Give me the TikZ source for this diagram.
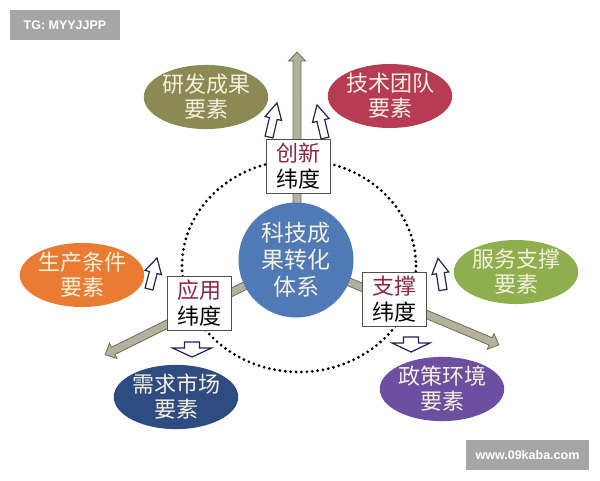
\documentclass[tikz,border=0pt]{standalone}
\usepackage{fontspec}
\newfontfamily\cjk{Noto Sans CJK SC}
\newfontfamily\wmfont{Liberation Sans}
\usetikzlibrary{shapes.geometric}
\definecolor{khaki}{HTML}{B3B19B}
\definecolor{khakiedge}{HTML}{6E6D5C}
\definecolor{coreblue}{HTML}{4F7AB5}
\definecolor{olive}{HTML}{8B8A54}
\definecolor{crimson}{HTML}{B73C53}
\definecolor{orangeel}{HTML}{E97B33}
\definecolor{navyel}{HTML}{2F4C82}
\definecolor{greenel}{HTML}{8FAE4E}
\definecolor{purpleel}{HTML}{6C4FA0}
\definecolor{cream}{HTML}{F4F1DE}
\definecolor{boxred}{HTML}{8B2840}
\definecolor{boxgray}{HTML}{505050}
\definecolor{navyline}{HTML}{1F2450}
\definecolor{wmgray}{HTML}{A6A6A6}
\newcommand\blkarr[7]{% style, base, angle, length, head length, shaft half, head half
  \begin{scope}[shift={#2}, rotate=#3]
    \filldraw[#1] (0,#6) -- ({#4-#5},#6) -- ({#4-#5},#7) -- (#4,0) -- ({#4-#5},-#7) -- ({#4-#5},-#6) -- (0,-#6) -- cycle;
  \end{scope}}
\begin{document}
\begin{tikzpicture}[x=1pt,y=-1pt,
  elem/.style={ellipse, minimum width=121pt, minimum height=60pt, inner sep=0pt,
    text=cream, font=\cjk\fontsize{22}{25}\selectfont, align=center},
  dimbox/.style={draw=boxgray, fill=white, line width=0.9pt, minimum width=64pt,
    minimum height=54pt, inner sep=0pt, align=center, font=\cjk\fontsize{22}{26}\selectfont},
  bigarrow/.style={fill=khaki, draw=khakiedge, line width=0.8pt, line join=miter},
  hollow/.style={fill=white, draw=navyline, line width=1.2pt, line join=miter},
  dotring/.style={line width=3.1pt, dash pattern=on 0pt off 5.4pt, line cap=round},
  wmbox/.style={fill=wmgray, text=white, inner sep=0pt, font=\wmfont\bfseries\fontsize{12.5}{15}\selectfont}
]
\useasboundingbox (0,0) rectangle (600,480);
\fill[white] (0,0) rectangle (600,480);

% watermarks
\node[wmbox, minimum width=110pt, minimum height=30pt] (wm1) at (65,25) {TG: MYYJJPP};
\node[wmbox, minimum width=123pt, minimum height=30pt] (wm2) at (527.5,455) {www.09kaba.com};

% dotted ring
\draw[dotring] (299,266) ellipse [x radius=117, y radius=106];

% main arrows
\coordinate (c) at (297,260);
\blkarr{bigarrow}{(c)}{90}{208}{9}{4}{8.5}
\blkarr{bigarrow}{(c)}{206.3}{214}{9}{4}{8.5}
\blkarr{bigarrow}{(c)}{-22.8}{219}{9}{4}{8.5}

% core
\node[circle, fill=coreblue, minimum size=115pt, inner sep=0pt, text=cream, align=center,
  font=\cjk\fontsize{23}{27}\selectfont] (core) at (296,260) {科技成\\果转化\\体系};

% dimension boxes
\node[dimbox] (inno) at (298,166) {\textcolor{boxred}{创新}\\纬度};
\node[dimbox] (appl) at (199.5,303) {\textcolor{boxred}{应用}\\纬度};
\node[dimbox] (supp) at (394,299) {\textcolor{boxred}{支撑}\\纬度};

% element ellipses
\node[elem, fill=olive] (rd) at (206,97) {研发成果\\要素};
\node[elem, fill=crimson] (team) at (390,96) {技术团队\\要素};
\node[elem, fill=orangeel] (prod) at (82,275) {生产条件\\要素};
\node[elem, fill=navyel] (mkt) at (176,397) {需求市场\\要素};
\node[elem, fill=greenel] (serv) at (516,272) {服务支撑\\要素};
\node[elem, fill=purpleel] (pol) at (442,389) {政策环境\\要素};

% hollow arrows
\blkarr{hollow}{(269,137)}{76.8}{35}{16}{4}{8.5}
\blkarr{hollow}{(325,138)}{103.6}{34}{16}{4}{8.5}
\blkarr{hollow}{(149,289)}{75.5}{32}{15}{4}{8.5}
\blkarr{hollow}{(443,290)}{98.9}{32}{15}{4}{8.5}
\blkarr{hollow}{(192,342)}{-90}{15}{9}{7.5}{19.5}
\blkarr{hollow}{(411,337)}{-90}{15}{9}{7.5}{19}
\end{tikzpicture}
\end{document}
